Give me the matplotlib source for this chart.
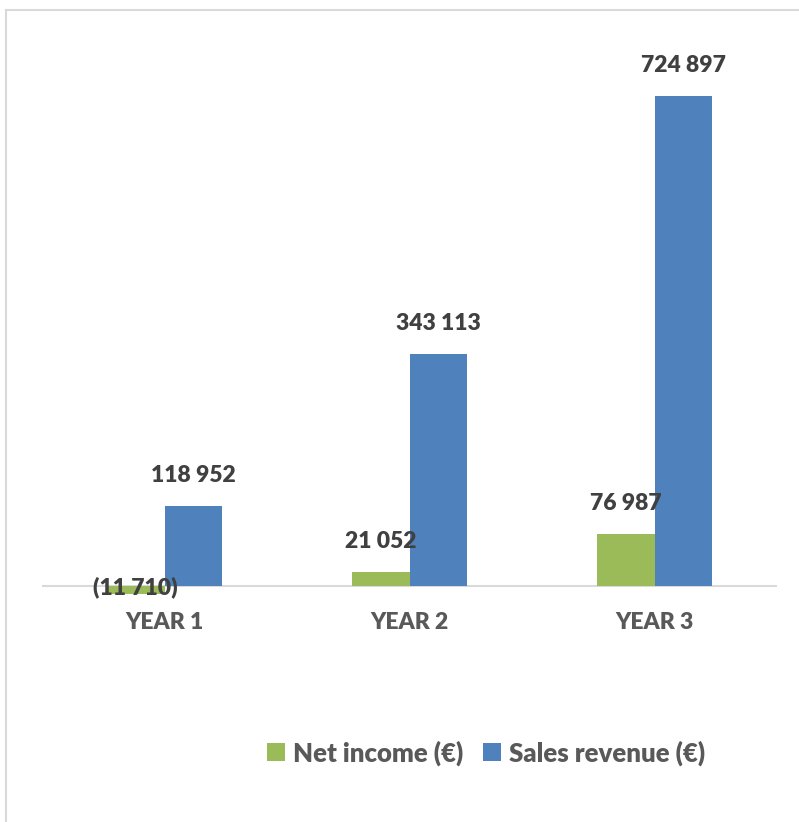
import matplotlib
matplotlib.use("Agg")
import matplotlib.pyplot as plt
from matplotlib.lines import Line2D
import numpy as np

categories = ["YEAR 1", "YEAR 2", "YEAR 3"]
net_income = [-11710, 21052, 76987]
sales_revenue = [118952, 343113, 724897]
net_labels = ["(11 710)", "21 052", "76 987"]
sales_labels = ["118 952", "343 113", "724 897"]
series_names = ["Net income (€)", "Sales revenue (€)"]

GREEN = "#9BBB59"
BLUE = "#4F81BD"
VAL_COLOR = "#404040"
CAT_COLOR = "#595959"
GRID = "#D9D9D9"

plt.rcParams['font.family'] = ['Lato', 'DejaVu Sans']
WEIGHT = "heavy"

W, H = 799, 822
fig = plt.figure(figsize=(W / 100, H / 100), dpi=100)

# figure border (top and left visible)
fig.add_artist(Line2D([5.5 / W, 5.5 / W], [0, 1 - 10.5 / H], transform=fig.transFigure,
                      color=GRID, lw=1.5))
fig.add_artist(Line2D([5.5 / W, 1], [1 - 10.5 / H, 1 - 10.5 / H], transform=fig.transFigure,
                      color=GRID, lw=1.5))

ax_top, ax_bot = 40, 600
ax = fig.add_axes([42 / W, (H - ax_bot) / H, 735 / W, (ax_bot - ax_top) / H])
ax.set_xlim(-0.5, 2.5)
ax.set_ylim(-20700, 807700)
for s in ax.spines.values():
    s.set_visible(False)
ax.set_yticks([])

x = np.arange(len(categories))
bw = 0.236
b1 = ax.bar(x - bw / 2, net_income, width=bw, color=GREEN, label=series_names[0], clip_on=False, zorder=2)
b2 = ax.bar(x + bw / 2, sales_revenue, width=bw, color=BLUE, label=series_names[1], clip_on=False, zorder=2)
ax.axhline(0, color=GRID, lw=1.5, zorder=1)

fs = 16.5
for xi, v, lab in zip(x, net_income, net_labels):
    off = 22 if v >= 0 else 5
    ax.annotate(lab, (xi - bw / 2, v), xytext=(0, off), textcoords="offset points",
                ha="center", va="center", fontsize=fs, fontweight=WEIGHT, color=VAL_COLOR, zorder=3)
for xi, v, lab in zip(x, sales_revenue, sales_labels):
    ax.annotate(lab, (xi + bw / 2, v), xytext=(0, 22), textcoords="offset points",
                ha="center", va="center", fontsize=fs, fontweight=WEIGHT, color=VAL_COLOR, zorder=3)

ax.set_xticks(x)
ax.set_xticklabels(categories, fontsize=fs, fontweight=WEIGHT, color=CAT_COLOR)
ax.tick_params(axis="x", length=0, pad=8.5)

fig.legend(handles=[b1, b2], labels=series_names, loc="center",
           bbox_to_anchor=(486 / W, 1 - 753 / H), ncol=2, frameon=False,
           handlelength=0.7, handleheight=0.7, handletextpad=0.3, columnspacing=0.8,
           prop={"family": ["Lato", "DejaVu Sans"], "weight": WEIGHT, "size": 18.5},
           labelcolor=CAT_COLOR)

fig.savefig("out.png", dpi=100)
